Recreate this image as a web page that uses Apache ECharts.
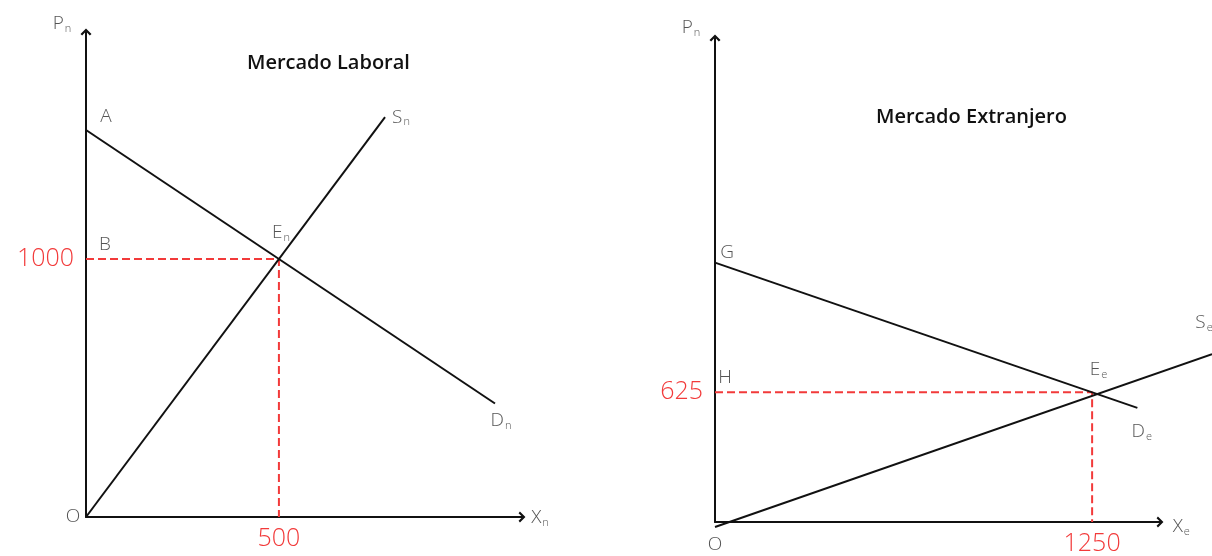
<!DOCTYPE html>
<html>
<head>
<meta charset="utf-8">
<script src="https://cdn.jsdelivr.net/npm/echarts@6/dist/echarts.min.js"></script>
<style>html,body{margin:0;padding:0;background:#fff}#c{width:1212px;height:556px}</style>
</head>
<body>
<div id="c"></div>
<script>
// ---- Data ----
const leftTitle = 'Mercado Laboral';
const rightTitle = 'Mercado Extranjero';
const leftDemand = [[0, 1500], [1060, 440]];
const leftSupply = [[0, 0], [775, 1550]];
const leftEquilibrium = [500, 1000];
const leftXMax = 1130, leftYMax = 1880;
const leftTicksX = [500];
const leftTicksY = [1000];
const rightDemand = [[0, 1250], [1400, 550]];
const rightSupply = [[0, 0], [1650, 825]];
const rightEquilibrium = [1250, 625];
const rightXMax = 1475, rightYMax = 2333;
const rightXExtent = 1650;
const rightTicksX = [1250];
const rightTicksY = [625];
const leftLabels = [
  { name: 'P_n', value: [0, 1880] },
  { name: 'A', value: [0, 1500] },
  { name: 'B', value: [0, 1000] },
  { name: 'E_n', value: [500, 1000] },
  { name: 'S_n', value: [775, 1550] },
  { name: 'D_n', value: [1060, 440] },
  { name: 'O', value: [0, 0] },
  { name: 'X_n', value: [1130, 0] }
];
const rightLabels = [
  { name: 'P_n', value: [0, 2333] },
  { name: 'G', value: [0, 1250] },
  { name: 'H', value: [0, 625] },
  { name: 'E_e', value: [1250, 625] },
  { name: 'S_e', value: [1650, 825] },
  { name: 'D_e', value: [1400, 550] },
  { name: 'O', value: [0, 0] },
  { name: 'X_e', value: [1475, 0] }
];

// ---- Styling (positions of labels relative to their anchor points) ----
const leftOffsets = { 'P_n': [-24, -8], 'A': [20, -13], 'B': [19, -14], 'E_n': [2, -26], 'S_n': [16, 0], 'D_n': [6, 17], 'O': [-13, 0], 'X_n': [18, 1] };
const rightOffsets = { 'P_n': [-24, -10], 'G': [12, -12], 'H': [10, -18], 'E_e': [7, -26], 'S_e': [-8, -31], 'D_e': [5, 20], 'O': [0, 18], 'X_e': [22, 0] };

const FONT = '"Open Sans", "Noto Sans", sans-serif';
const RED = '#f23a3a';
const LINE = '#111';
const TXT = '#2a2a2a';
const arrow = 'path://M0,10 L10,0 L20,10 L17,12.5 L10,5.5 L3,12.5 Z';

function fmt(s) {
  const p = s.split('_');
  return p.length > 1 ? p[0] + '{s|' + p[1] + '}' : s;
}
function labelData(list, offsets) {
  return list.map(d => ({
    name: d.name, value: d.value,
    label: { offset: offsets[d.name] }
  }));
}
function axisCommon(customVals, isX) {
  return {
    show: true,
    axisLine: { show: true, symbol: ['none', arrow], symbolSize: [11, 8], lineStyle: { color: LINE, width: 2 } },
    axisTick: { show: false },
    splitLine: { show: false },
    axisLabel: {
      show: true, customValues: customVals, formatter: v => String(v), color: RED, fontFamily: FONT, fontSize: 25, fontWeight: 300,
      margin: isX ? 9 : 12
    }
  };
}
function hiddenAxis(idx, max) {
  return { type: 'value', gridIndex: idx, min: 0, max: max, show: false };
}
function lineSeries(idx, data, dashed) {
  return {
    type: 'line', xAxisIndex: idx, yAxisIndex: idx, data: data, symbol: 'none', clip: false,
    silent: true, animation: false,
    lineStyle: dashed ? { color: RED, width: 2, type: [8, 4] } : { color: LINE, width: 2 }
  };
}
function labelSeries(idx, list, offsets) {
  return {
    type: 'scatter', xAxisIndex: idx, yAxisIndex: idx, symbolSize: 0, clip: false, silent: true, animation: false,
    data: labelData(list, offsets),
    label: {
      show: true, position: 'inside', formatter: p => fmt(p.name),
      fontFamily: FONT, fontSize: 19, fontWeight: 300, color: TXT,
      rich: { s: { fontSize: 11, fontFamily: FONT, fontWeight: 300, color: TXT, padding: [10, 0, 0, 1] } }
    }
  };
}

const rightGridWidth = 445;
const chart = echarts.init(document.getElementById('c'), null, { renderer: 'canvas' });
chart.setOption({
  animation: false,
  backgroundColor: '#fff',
  title: [
    { text: leftTitle, left: 242, top: 48, textStyle: { fontFamily: FONT, fontSize: 20, fontWeight: 600, color: '#111' } },
    { text: rightTitle, left: 871, top: 102, textStyle: { fontFamily: FONT, fontSize: 20, fontWeight: 600, color: '#111' } }
  ],
  grid: [
    { left: 86, top: 32, width: 436, height: 485 },
    { left: 715, top: 38, width: rightGridWidth, height: 489 },
    // same scale as grid 1, extended to the right so the supply line can run past the axis end
    { left: 715, top: 38, width: rightGridWidth * rightXExtent / rightXMax, height: 489 }
  ],
  xAxis: [
    Object.assign({ type: 'value', gridIndex: 0, min: 0, max: leftXMax }, axisCommon(leftTicksX, true)),
    Object.assign({ type: 'value', gridIndex: 1, min: 0, max: rightXMax }, axisCommon(rightTicksX, true)),
    hiddenAxis(2, rightXExtent)
  ],
  yAxis: [
    Object.assign({ type: 'value', gridIndex: 0, min: 0, max: leftYMax }, axisCommon(leftTicksY, false)),
    Object.assign({ type: 'value', gridIndex: 1, min: 0, max: rightYMax }, axisCommon(rightTicksY, false)),
    hiddenAxis(2, rightYMax)
  ],
  series: [
    lineSeries(0, [[0, leftEquilibrium[1]], leftEquilibrium, [leftEquilibrium[0], 0]], true),
    lineSeries(0, leftDemand, false),
    lineSeries(0, leftSupply, false),
    labelSeries(0, leftLabels, leftOffsets),
    lineSeries(1, [[0, rightEquilibrium[1]], rightEquilibrium, [rightEquilibrium[0], 0]], true),
    lineSeries(1, rightDemand, false),
    lineSeries(2, rightSupply, false),
    labelSeries(2, rightLabels, rightOffsets)
  ]
});
</script>
</body>
</html>
